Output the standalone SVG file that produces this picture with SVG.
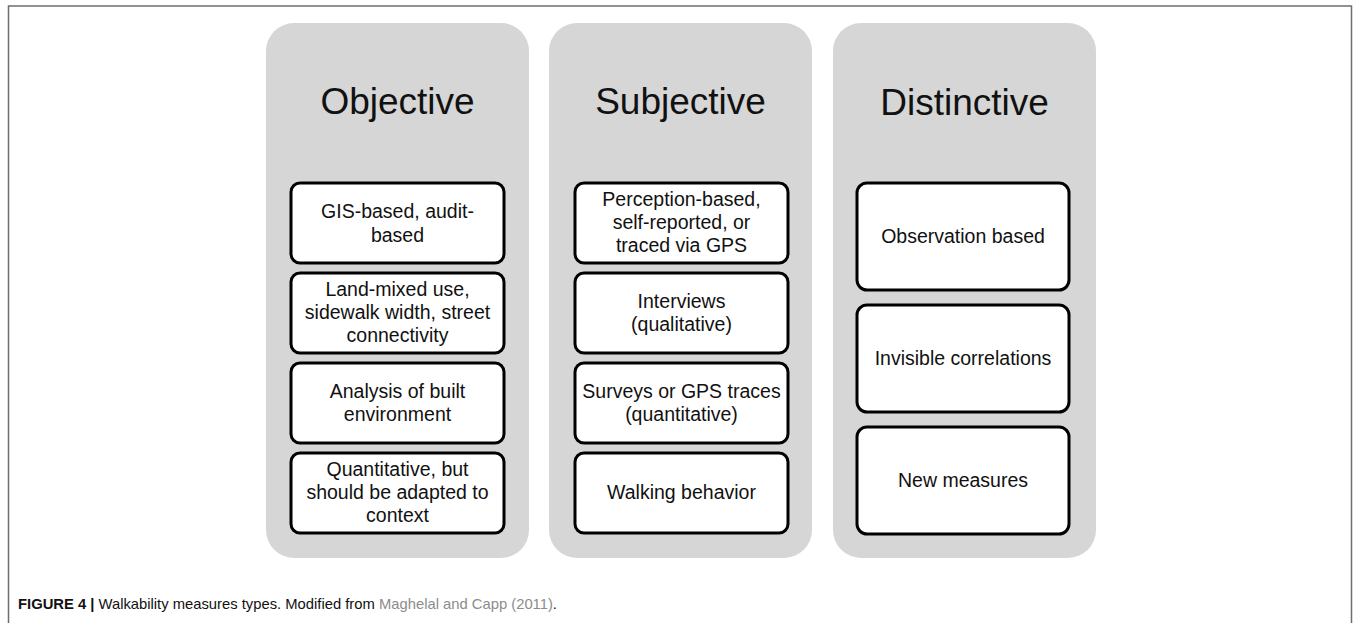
<svg xmlns="http://www.w3.org/2000/svg" width="1354" height="623" viewBox="0 0 1354 623">
<style>
.frame{fill:none;stroke:#6e6e6e;stroke-width:1.5}
.panel{fill:#d6d6d6;stroke:none}
.box{fill:#ffffff;stroke:#000;stroke-width:3}
.title{font-family:"Liberation Sans",Arial,sans-serif;font-size:37px;fill:#111;text-anchor:middle}
.t{font-family:"Liberation Sans",Arial,sans-serif;font-size:19.5px;fill:#111;text-anchor:middle}
.cap{font-family:"Liberation Sans",Arial,sans-serif;font-size:14.5px;fill:#111}
</style>
<rect x="0" y="0" width="1354" height="623" fill="#ffffff"/>
<rect class="frame" x="8.5" y="6" width="1343" height="640"/>

<g id="objective">
<rect class="panel" x="266" y="23" width="263" height="535" rx="28"/>
<text class="title" x="397.5" y="114">Objective</text>
<g id="obj1"><rect class="box" x="291" y="183" width="213" height="80" rx="9"/>
<text class="t"><tspan x="397.5" y="218">GIS-based, audit-</tspan><tspan x="397.5" y="241.5">based</tspan></text></g>
<g id="obj2"><rect class="box" x="291" y="273" width="213" height="80" rx="9"/>
<text class="t"><tspan x="397.5" y="296">Land-mixed use,</tspan><tspan x="397.5" y="319">sidewalk width, street</tspan><tspan x="397.5" y="342">connectivity</tspan></text></g>
<g id="obj3"><rect class="box" x="291" y="363" width="213" height="80" rx="9"/>
<text class="t"><tspan x="397.5" y="397.5">Analysis of built</tspan><tspan x="397.5" y="420.5">environment</tspan></text></g>
<g id="obj4"><rect class="box" x="291" y="453" width="213" height="80" rx="9"/>
<text class="t"><tspan x="397.5" y="476">Quantitative, but</tspan><tspan x="397.5" y="499">should be adapted to</tspan><tspan x="397.5" y="522">context</tspan></text></g>
</g>

<g id="subjective">
<rect class="panel" x="549" y="23" width="263" height="535" rx="28"/>
<text class="title" x="680.5" y="114">Subjective</text>
<g id="sub1"><rect class="box" x="575" y="183" width="213" height="80" rx="9"/>
<text class="t"><tspan x="681.5" y="206">Perception-based,</tspan><tspan x="681.5" y="229">self-reported, or</tspan><tspan x="681.5" y="252">traced via GPS</tspan></text></g>
<g id="sub2"><rect class="box" x="575" y="273" width="213" height="80" rx="9"/>
<text class="t"><tspan x="681.5" y="307.5">Interviews</tspan><tspan x="681.5" y="330.5">(qualitative)</tspan></text></g>
<g id="sub3"><rect class="box" x="575" y="363" width="213" height="80" rx="9"/>
<text class="t"><tspan x="681.5" y="397.5">Surveys or GPS traces</tspan><tspan x="681.5" y="420.5">(quantitative)</tspan></text></g>
<g id="sub4"><rect class="box" x="575" y="453" width="213" height="80" rx="9"/>
<text class="t" x="681.5" y="499">Walking behavior</text></g>
</g>

<g id="distinctive">
<rect class="panel" x="833" y="23" width="263" height="535" rx="28"/>
<text class="title" x="964.5" y="115">Distinctive</text>
<g id="dis1"><rect class="box" x="857" y="183" width="212" height="107" rx="10"/>
<text class="t" x="963" y="242.5">Observation based</text></g>
<g id="dis2"><rect class="box" x="857" y="305" width="212" height="107" rx="10"/>
<text class="t" x="963" y="364.5">Invisible correlations</text></g>
<g id="dis3"><rect class="box" x="857" y="427" width="212" height="107" rx="10"/>
<text class="t" x="963" y="486.5">New measures</text></g>
</g>

<g id="connectors"></g>

<text class="cap" x="18" y="609" textLength="539" lengthAdjust="spacingAndGlyphs"><tspan font-weight="bold">FIGURE 4 |</tspan> Walkability measures types. Modified from <tspan fill="#8c8c8c">Maghelal and Capp (2011)</tspan>.</text>
</svg>
